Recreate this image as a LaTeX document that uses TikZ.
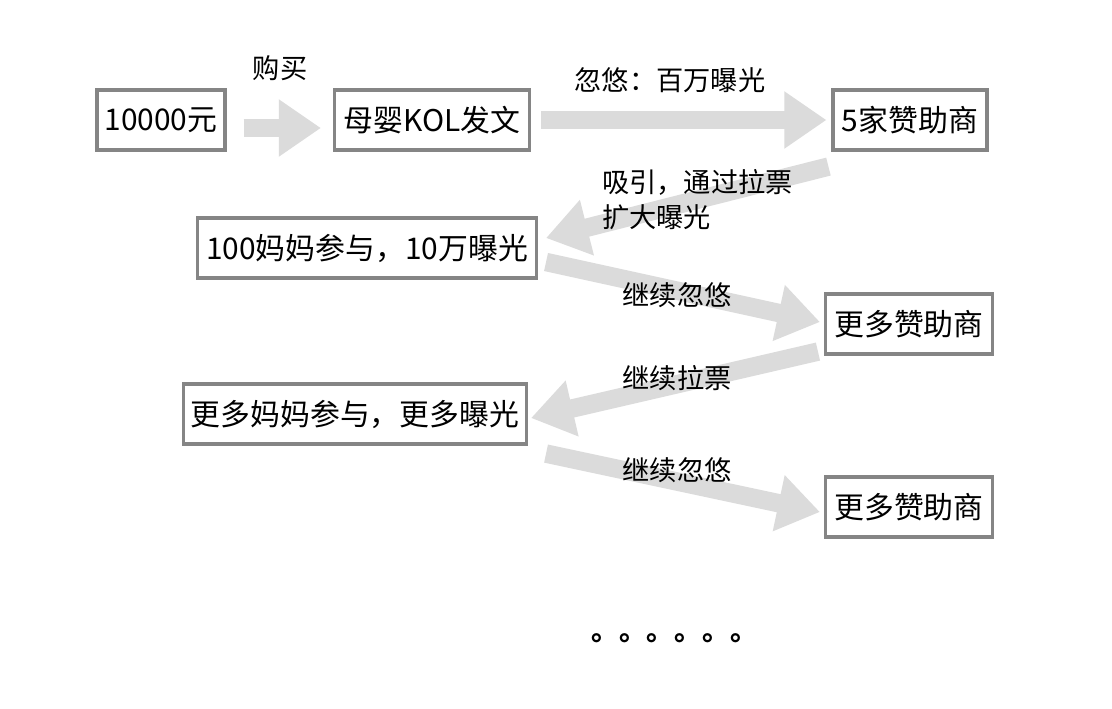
\documentclass[tikz,border=0pt]{standalone}
\usepackage{fontspec}
\setmainfont{Noto Sans CJK SC}
\usetikzlibrary{arrows.meta,positioning}
\definecolor{boxgray}{HTML}{858585}
\definecolor{arrowgray}{HTML}{DBDBDB}
\tikzstyle{stepbox}=[draw=boxgray, line width=1.8pt, fill=white, minimum height=1.2cm, inner xsep=2pt, font=\fontsize{17}{20}\selectfont]
\tikzstyle{fatarrow}=[draw=arrowgray, line width=10.5pt, -{Triangle[length=24pt 0 0, width=31pt 0 0]}]

\begin{document}
\begin{tikzpicture}[x=0.02cm, y=-0.02cm, font=\fontsize{15.5}{20}\selectfont]
    \useasboundingbox[fill=white] (0,0) rectangle (1112,708) ;
    % boxes
    \node[stepbox, minimum width=2.56cm] (cash) at (161,120) {10000元} ;
    \node[stepbox, minimum width=3.9cm] (kol) at (432,120) {母婴KOL发文} ;
    \node[stepbox, minimum width=3.08cm] (spons) at (910,120) {5家赞助商} ;
    \node[stepbox, minimum width=6.78cm] (moms) at (367,248) {100妈妈参与，10万曝光} ;
    \node[stepbox, minimum width=3.34cm] (spmore) at (909,324) {更多赞助商} ;
    \node[stepbox, minimum width=6.86cm] (mommore) at (355,414) {更多妈妈参与，更多曝光} ;
    \node[stepbox, minimum width=3.34cm] (spmoretoo) at (909,507) {更多赞助商} ;
    % fat arrows
    \draw[fatarrow] ([shift={(17,8)}]cash.east) -- ([shift={(-12,8)}]kol.west) ;
    \draw[fatarrow] ([shift={(10,0)}]kol.east) -- ([shift={(-5,0)}]spons.west) ;
    \draw[fatarrow] ([shift={(-3,15)}]spons.south west) -- ([shift={(8,-10)}]moms.east) ;
    \draw[fatarrow] ([shift={(8,14)}]moms.east) -- ([shift={(-4,-2)}]spmore.west) ;
    \draw[fatarrow] ([shift={(-6,-4)}]spmore.south west) -- ([shift={(3,4)}]mommore.east) ;
    \draw[fatarrow] ([shift={(18,8)}]mommore.south east) -- ([shift={(-4,5)}]spmoretoo.west) ;
    % labels
    \node (buy) at (280,68) {购买} ;
    \node (hype) at (670,80) {忽悠：百万曝光} ;
    \node[align=left, anchor=west] (attract) at (596,200) {吸引，通过拉票\\扩大曝光} ;
    \node (hypeon) at (677,295) {继续忽悠} ;
    \node (voteon) at (677,378) {继续拉票} ;
    \node (hypeagain) at (677,470) {继续忽悠} ;
    \node[anchor=west, inner sep=0pt, font=\bfseries\fontsize{15.8}{20}\selectfont] (dots) at (591,638) {。。。。。。} ;
\end{tikzpicture}
\end{document}
